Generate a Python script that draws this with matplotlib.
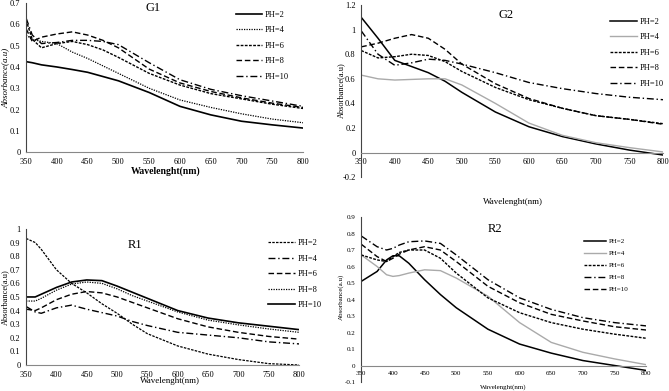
import numpy as np
import matplotlib
matplotlib.use('Agg')
import matplotlib.pyplot as plt

plt.rcParams['font.family'] = ['Liberation Serif', 'DejaVu Serif']

labels = ['PH=2', 'PH=4', 'PH=6', 'PH=8', 'PH=10']

# G1
g1_x = [350, 360, 375, 400, 425, 450, 475, 500, 550, 600, 650, 700, 750, 800]
g1_ph2 = [0.425, 0.42, 0.41, 0.40, 0.388, 0.375, 0.355, 0.335, 0.28, 0.215, 0.175, 0.145, 0.128, 0.113]
g1_ph4 = [0.55, 0.53, 0.52, 0.51, 0.47, 0.44, 0.405, 0.37, 0.30, 0.245, 0.21, 0.18, 0.155, 0.138]
g1_ph6 = [0.62, 0.53, 0.49, 0.51, 0.52, 0.505, 0.48, 0.445, 0.37, 0.315, 0.275, 0.25, 0.225, 0.205]
g1_ph8 = [0.58, 0.52, 0.54, 0.555, 0.565, 0.55, 0.525, 0.49, 0.39, 0.325, 0.285, 0.255, 0.23, 0.21]
g1_ph10 = [0.63, 0.55, 0.51, 0.515, 0.525, 0.525, 0.52, 0.505, 0.42, 0.34, 0.295, 0.265, 0.24, 0.215]

# G2
g2_x = [350, 375, 400, 425, 450, 475, 500, 550, 600, 650, 700, 750, 800]
g2_ph2 = [1.10, 0.93, 0.75, 0.70, 0.65, 0.58, 0.49, 0.33, 0.21, 0.13, 0.07, 0.02, -0.02]
g2_ph4 = [0.63, 0.60, 0.59, 0.595, 0.60, 0.60, 0.55, 0.40, 0.24, 0.14, 0.08, 0.04, 0.005]
g2_ph6 = [0.83, 0.77, 0.78, 0.80, 0.79, 0.74, 0.66, 0.53, 0.43, 0.36, 0.30, 0.27, 0.235]
g2_ph8 = [0.86, 0.89, 0.93, 0.96, 0.93, 0.84, 0.72, 0.56, 0.44, 0.36, 0.30, 0.27, 0.23]
g2_ph10 = [0.99, 0.80, 0.71, 0.73, 0.76, 0.75, 0.72, 0.65, 0.57, 0.52, 0.48, 0.45, 0.43]

# R1
r1_x = [350, 365, 375, 400, 425, 450, 475, 500, 525, 550, 600, 650, 700, 750, 800]
r1_ph2 = [0.93, 0.90, 0.85, 0.70, 0.60, 0.53, 0.45, 0.38, 0.30, 0.23, 0.14, 0.08, 0.04, 0.01, 0.0]
r1_ph4 = [0.43, 0.39, 0.38, 0.42, 0.44, 0.41, 0.385, 0.36, 0.32, 0.29, 0.24, 0.22, 0.20, 0.17, 0.155]
r1_ph6 = [0.41, 0.40, 0.42, 0.48, 0.52, 0.54, 0.53, 0.50, 0.46, 0.42, 0.34, 0.28, 0.24, 0.21, 0.19]
r1_ph8 = [0.47, 0.47, 0.49, 0.55, 0.595, 0.61, 0.60, 0.56, 0.51, 0.47, 0.39, 0.33, 0.295, 0.265, 0.24]
r1_ph10 = [0.50, 0.50, 0.52, 0.57, 0.61, 0.625, 0.62, 0.58, 0.535, 0.49, 0.40, 0.345, 0.31, 0.285, 0.26]

# R2
r2_x = [350, 375, 390, 400, 410, 425, 450, 475, 500, 550, 600, 650, 700, 750, 800]
r2_ph2 = [0.51, 0.57, 0.64, 0.665, 0.665, 0.62, 0.52, 0.43, 0.35, 0.22, 0.13, 0.075, 0.03, 0.0, -0.03]
r2_ph4 = [0.67, 0.60, 0.55, 0.54, 0.545, 0.56, 0.58, 0.575, 0.53, 0.42, 0.26, 0.14, 0.08, 0.04, 0.005]
r2_ph6 = [0.67, 0.64, 0.63, 0.66, 0.685, 0.70, 0.70, 0.65, 0.56, 0.41, 0.32, 0.26, 0.22, 0.19, 0.165]
r2_ph8 = [0.785, 0.72, 0.70, 0.71, 0.73, 0.75, 0.755, 0.74, 0.67, 0.52, 0.41, 0.34, 0.29, 0.26, 0.24]
r2_ph10 = [0.735, 0.66, 0.63, 0.65, 0.675, 0.70, 0.72, 0.70, 0.63, 0.48, 0.38, 0.31, 0.27, 0.235, 0.215]

DOT = (0, (1, 1))
SDASH = (0, (2, 1))
LDASH = (0, (4, 2))
DASHDOT = (0, (5, 2, 1, 2))


def drawPanel(ax, x, series, styles, ylim, yticks, title, titlepos, legpos, fs=6):
    for ys, (ls, col, lw), lab in zip(series, styles, labels):
        ax.plot(x, ys, linestyle=ls, color=col, linewidth=lw, label=lab)
    ax.set_xlim(350, 800)
    ax.set_ylim(*ylim)
    ax.set_xticks(range(350, 801, 50))
    ax.set_yticks(yticks)
    ax.set_yticklabels(['%g' % t for t in yticks])
    for s in ['top', 'right']:
        ax.spines[s].set_visible(False)
    ax.spines['bottom'].set_position(('data', 0))
    ax.spines['bottom'].set_color('#888888')
    ax.spines['left'].set_color('#444444')
    ax.tick_params(axis='x', labelsize=fs, length=0, pad=4)
    ax.tick_params(axis='y', labelsize=fs, length=0, pad=4)
    ax.text(titlepos[0], titlepos[1], title, transform=ax.transAxes, fontsize=9, ha='center', va='center')
    ax.legend(loc='upper left', bbox_to_anchor=legpos, frameon=False, fontsize=fs,
              handlelength=3.2, labelspacing=0.9, handletextpad=0.3)


fig = plt.figure(figsize=(6.69, 3.91), dpi=100)

ax1 = fig.add_axes([0.039, 0.611, 0.414, 0.381])
drawPanel(ax1, g1_x, [g1_ph2, g1_ph4, g1_ph6, g1_ph8, g1_ph10],
          [('-', 'black', 1.2), (DOT, 'black', 0.9), (SDASH, 'black', 1.0), (LDASH, 'black', 1.0), (DASHDOT, 'black', 1.0)],
          (0, 0.7), [0, 0.1, 0.2, 0.3, 0.4, 0.5, 0.6, 0.7], 'G1', (0.46, 0.97), (0.73, 1.0))
fig.text(0.247, 0.563, 'Wavelenght(nm)', ha='center', va='center', fontsize=7, fontweight='bold')
fig.text(0.008, 0.80, 'Absorbance(a.u)', rotation=90, ha='center', va='center', fontsize=6.5, fontstyle='italic')

ax2 = fig.add_axes([0.540, 0.547, 0.451, 0.440])
drawPanel(ax2, g2_x, [g2_ph2, g2_ph4, g2_ph6, g2_ph8, g2_ph10],
          [('-', 'black', 1.1), ('-', '#aaaaaa', 1.0), (SDASH, 'black', 1.0), (LDASH, 'black', 1.0), (DASHDOT, 'black', 1.0)],
          (-0.2, 1.2), [-0.2, 0, 0.2, 0.4, 0.6, 0.8, 1, 1.2], 'G2', (0.48, 0.94), (0.80, 0.97))
fig.text(0.767, 0.483, 'Wavelenght(nm)', ha='center', va='center', fontsize=6.5)
fig.text(0.510, 0.77, 'Absorbance(a.u)', rotation=90, ha='center', va='center', fontsize=6)

ax3 = fig.add_axes([0.039, 0.0665, 0.408, 0.348])
drawPanel(ax3, r1_x, [r1_ph2, r1_ph4, r1_ph6, r1_ph8, r1_ph10],
          [(SDASH, 'black', 0.9), (DASHDOT, 'black', 1.0), (LDASH, 'black', 1.0), (DOT, 'black', 0.9), ('-', 'black', 1.2)],
          (0, 1), [0, 0.1, 0.2, 0.3, 0.4, 0.5, 0.6, 0.7, 0.8, 0.9, 1], 'R1', (0.40, 0.88), (0.86, 0.98))
fig.text(0.254, 0.025, 'Wavelenght(nm)', ha='center', va='center', fontsize=6.5)
fig.text(0.008, 0.24, 'Absorbance(a.u)', rotation=90, ha='center', va='center', fontsize=6)

ax4 = fig.add_axes([0.540, 0.023, 0.426, 0.422])
drawPanel(ax4, r2_x, [r2_ph2, r2_ph4, r2_ph6, r2_ph8, r2_ph10],
          [('-', 'black', 1.1), ('-', '#aaaaaa', 1.0), (SDASH, 'black', 1.0), (DASHDOT, 'black', 1.0), (LDASH, 'black', 1.0)],
          (-0.1, 0.9), [-0.1, 0, 0.1, 0.2, 0.3, 0.4, 0.5, 0.6, 0.7, 0.8, 0.9], 'R2', (0.47, 0.93), (0.76, 0.91), fs=5)
fig.text(0.752, 0.010, 'Wavelenght(nm)', ha='center', va='center', fontsize=5)
fig.text(0.510, 0.24, 'Absorbance(a.u)', rotation=90, ha='center', va='center', fontsize=5)

plt.savefig('out.png', dpi=100)
